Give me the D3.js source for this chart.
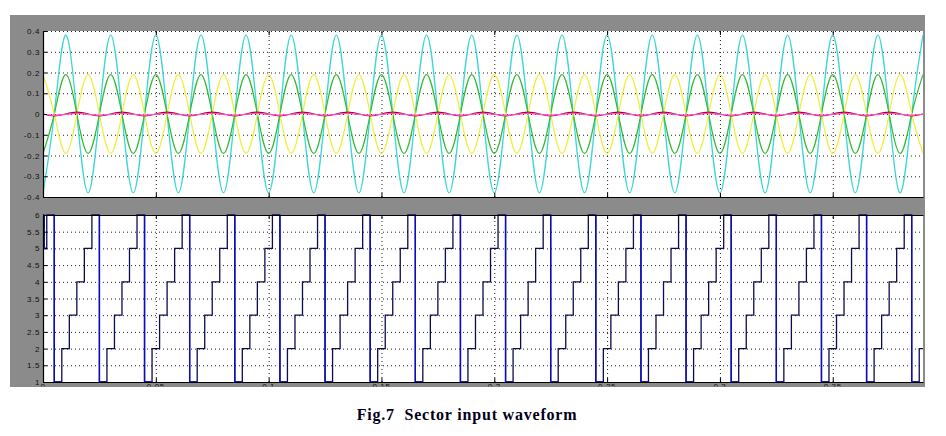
<!DOCTYPE html>
<html>
<head>
<meta charset="utf-8">
<script src="https://cdn.jsdelivr.net/npm/d3@7"></script>
<style>
  html, body { margin: 0; padding: 0; background: #ffffff; }
  svg { display: block; }
</style>
</head>
<body>
<svg id="chart" width="946" height="436"></svg>
<script>
// ---------------- DATA ----------------
// time base of the upper waveforms (s), quarter-period samples (79 points)
const waveTimes = [
 0,0.005,0.01,0.015,0.02,0.025,0.03,0.035,0.04,0.045,0.05,0.055,0.06,0.065,0.07,0.075,0.08,0.085,0.09,0.095,
 0.1,0.105,0.11,0.115,0.12,0.125,0.13,0.135,0.14,0.145,0.15,0.155,0.16,0.165,0.17,0.175,0.18,0.185,0.19,0.195,
 0.2,0.205,0.21,0.215,0.22,0.225,0.23,0.235,0.24,0.245,0.25,0.255,0.26,0.265,0.27,0.275,0.28,0.285,0.29,0.295,
 0.3,0.305,0.31,0.315,0.32,0.325,0.33,0.335,0.34,0.345,0.35,0.355,0.36,0.365,0.37,0.375,
 0.38,0.385,0.39];
const cyanValues = [
 -0.38,0,0.38,0, -0.38,0,0.38,0, -0.38,0,0.38,0, -0.38,0,0.38,0, -0.38,0,0.38,0,
 -0.38,0,0.38,0, -0.38,0,0.38,0, -0.38,0,0.38,0, -0.38,0,0.38,0, -0.38,0,0.38,0,
 -0.38,0,0.38,0, -0.38,0,0.38,0, -0.38,0,0.38,0, -0.38,0,0.38,0, -0.38,0,0.38,0,
 -0.38,0,0.38,0, -0.38,0,0.38,0, -0.38,0,0.38,0, -0.38,0,0.38,0,
 -0.38,0,0.38];
const greenValues = [
 -0.19,0,0.19,0, -0.19,0,0.19,0, -0.19,0,0.19,0, -0.19,0,0.19,0, -0.19,0,0.19,0,
 -0.19,0,0.19,0, -0.19,0,0.19,0, -0.19,0,0.19,0, -0.19,0,0.19,0, -0.19,0,0.19,0,
 -0.19,0,0.19,0, -0.19,0,0.19,0, -0.19,0,0.19,0, -0.19,0,0.19,0, -0.19,0,0.19,0,
 -0.19,0,0.19,0, -0.19,0,0.19,0, -0.19,0,0.19,0, -0.19,0,0.19,0,
 -0.19,0,0.19];
const yellowValues = [
 0.19,0,-0.19,0, 0.19,0,-0.19,0, 0.19,0,-0.19,0, 0.19,0,-0.19,0, 0.19,0,-0.19,0,
 0.19,0,-0.19,0, 0.19,0,-0.19,0, 0.19,0,-0.19,0, 0.19,0,-0.19,0, 0.19,0,-0.19,0,
 0.19,0,-0.19,0, 0.19,0,-0.19,0, 0.19,0,-0.19,0, 0.19,0,-0.19,0, 0.19,0,-0.19,0,
 0.19,0,-0.19,0, 0.19,0,-0.19,0, 0.19,0,-0.19,0, 0.19,0,-0.19,0,
 0.19,0,-0.19];
const redValues = [
 0,-0.009,0,0.009, 0,-0.009,0,0.009, 0,-0.009,0,0.009, 0,-0.009,0,0.009, 0,-0.009,0,0.009,
 0,-0.009,0,0.009, 0,-0.009,0,0.009, 0,-0.009,0,0.009, 0,-0.009,0,0.009, 0,-0.009,0,0.009,
 0,-0.009,0,0.009, 0,-0.009,0,0.009, 0,-0.009,0,0.009, 0,-0.009,0,0.009, 0,-0.009,0,0.009,
 0,-0.009,0,0.009, 0,-0.009,0,0.009, 0,-0.009,0,0.009, 0,-0.009,0,0.009,
 0,-0.009,0];
const magentaValues = [
 -0.002,-0.006,-0.002,0.003, -0.002,-0.006,-0.002,0.003, -0.002,-0.006,-0.002,0.003, -0.002,-0.006,-0.002,0.003, -0.002,-0.006,-0.002,0.003,
 -0.002,-0.006,-0.002,0.003, -0.002,-0.006,-0.002,0.003, -0.002,-0.006,-0.002,0.003, -0.002,-0.006,-0.002,0.003, -0.002,-0.006,-0.002,0.003,
 -0.002,-0.006,-0.002,0.003, -0.002,-0.006,-0.002,0.003, -0.002,-0.006,-0.002,0.003, -0.002,-0.006,-0.002,0.003, -0.002,-0.006,-0.002,0.003,
 -0.002,-0.006,-0.002,0.003, -0.002,-0.006,-0.002,0.003, -0.002,-0.006,-0.002,0.003, -0.002,-0.006,-0.002,0.003,
 -0.002,-0.006,-0.002];

// sector staircase (step-after): change times (s) and sector numbers
const sectorTimes = [0,0.0005,0.00167,
 0.005,0.00833,0.01167,0.015,0.01833,0.02167,
 0.025,0.02833,0.03167,0.035,0.03833,0.04167,
 0.045,0.04833,0.05167,0.055,0.05833,0.06167,
 0.065,0.06833,0.07167,0.075,0.07833,0.08167,
 0.085,0.08833,0.09167,0.095,0.09833,0.10167,
 0.105,0.10833,0.11167,0.115,0.11833,0.12167,
 0.125,0.12833,0.13167,0.135,0.13833,0.14167,
 0.145,0.14833,0.15167,0.155,0.15833,0.16167,
 0.165,0.16833,0.17167,0.175,0.17833,0.18167,
 0.185,0.18833,0.19167,0.195,0.19833,0.20167,
 0.205,0.20833,0.21167,0.215,0.21833,0.22167,
 0.225,0.22833,0.23167,0.235,0.23833,0.24167,
 0.245,0.24833,0.25167,0.255,0.25833,0.26167,
 0.265,0.26833,0.27167,0.275,0.27833,0.28167,
 0.285,0.28833,0.29167,0.295,0.29833,0.30167,
 0.305,0.30833,0.31167,0.315,0.31833,0.32167,
 0.325,0.32833,0.33167,0.335,0.33833,0.34167,
 0.345,0.34833,0.35167,0.355,0.35833,0.36167,
 0.365,0.36833,0.37167,0.375,0.37833,0.38167,
 0.385,0.38833,0.39];
const sectorValues = [6,5,6,
 1,2,3,4,5,6, 1,2,3,4,5,6, 1,2,3,4,5,6, 1,2,3,4,5,6,
 1,2,3,4,5,6, 1,2,3,4,5,6, 1,2,3,4,5,6, 1,2,3,4,5,6,
 1,2,3,4,5,6, 1,2,3,4,5,6, 1,2,3,4,5,6, 1,2,3,4,5,6,
 1,2,3,4,5,6, 1,2,3,4,5,6, 1,2,3,4,5,6, 1,2,3,4,5,6,
 1,2,3,4,5,6, 1,2,3,4,5,6, 1,2,3,4,5,6,
 1,2,2];

// ticks
const xTicks = [0,0.05,0.1,0.15,0.2,0.25,0.3,0.35];
const xTickLabels = ["0","0.05","0.1","0.15","0.2","0.25","0.3","0.35"];
const topYTicks = [0.4,0.3,0.2,0.1,0,-0.1,-0.2,-0.3,-0.4];
const topYTickLabels = ["0.4","0.3","0.2","0.1","0","-0.1","-0.2","-0.3","-0.4"];
const botYTicks = [6,5.5,5,4.5,4,3.5,3,2.5,2,1.5,1];
const botYTickLabels = ["6","5.5","5","4.5","4","3.5","3","2.5","2","1.5","1"];
const caption = "Fig.7\u00a0\u00a0Sector input waveform";

// ---------------- LAYOUT ----------------
const svg = d3.select("#chart");
const L = 43, R = 923;
const TOP = {y0: 31, y1: 197};
const BOT = {y0: 215, y1: 382};
const GRAY = "#8b8b8b";
const FONT = "Liberation Sans, Arial, sans-serif";

const x = d3.scaleLinear().domain([0, 0.39]).range([L, R]);
const yTop = d3.scaleLinear().domain([-0.4, 0.4]).range([TOP.y1, TOP.y0]);
const yBot = d3.scaleLinear().domain([1, 6]).range([BOT.y1, BOT.y0]);

// gray scope background
svg.append("rect").attr("x", 10).attr("y", 15).attr("width", 915).attr("height", 372).attr("fill", GRAY);

const defs = svg.append("defs");
defs.append("clipPath").attr("id", "clipTop").append("rect")
  .attr("x", L).attr("y", TOP.y0).attr("width", R - L).attr("height", TOP.y1 - TOP.y0);
defs.append("clipPath").attr("id", "clipBot").append("rect")
  .attr("x", L).attr("y", BOT.y0 - 1).attr("width", R - L).attr("height", BOT.y1 - BOT.y0 + 2);
defs.append("clipPath").attr("id", "clipXLab").append("rect")
  .attr("x", 0).attr("y", 0).attr("width", 946).attr("height", 386.5);

function panel(p, yScale, yTicks, clipId) {
  svg.append("rect").attr("x", L).attr("y", p.y0).attr("width", R - L).attr("height", p.y1 - p.y0).attr("fill", "#ffffff");

  const gy = svg.append("g").attr("transform", `translate(${L},0)`)
    .call(d3.axisLeft(yScale).tickValues(yTicks).tickSize(-(R - L)).tickFormat(""));
  gy.select(".domain").remove();
  gy.selectAll("line").attr("stroke", "#222").attr("stroke-dasharray", "1,3").attr("stroke-width", 1);

  const gx = svg.append("g").attr("transform", `translate(0,${p.y1})`)
    .call(d3.axisBottom(x).tickValues(xTicks).tickSize(-(p.y1 - p.y0)).tickFormat(""));
  gx.select(".domain").remove();
  gx.selectAll("line").attr("stroke", "#222").attr("stroke-dasharray", "1,3").attr("stroke-width", 1);

  return svg.append("g").attr("clip-path", `url(#${clipId})`);
}

function frame(p, yScale, yTicks, yLabels, topBorder) {
  const ay = svg.append("g").attr("transform", `translate(${L},0)`)
    .call(d3.axisLeft(yScale).tickValues(yTicks).tickSizeInner(-4).tickSizeOuter(0).tickPadding(3)
      .tickFormat((d, i) => yLabels[i]));
  ay.select(".domain").attr("stroke", "#000").attr("stroke-width", 1.2);
  ay.selectAll(".tick line").attr("stroke", "#000");
  ay.selectAll("text").attr("font-family", FONT)
    .attr("font-size", 8).attr("letter-spacing", "0.6px").attr("fill", "#111");

  const ax = svg.append("g").attr("transform", `translate(0,${p.y1})`)
    .call(d3.axisBottom(x).tickValues(xTicks).tickSizeInner(-4).tickSizeOuter(0).tickFormat(""));
  ax.select(".domain").attr("stroke", "#000").attr("stroke-width", 1.2);
  ax.selectAll(".tick line").attr("stroke", "#000");

  const at = svg.append("g").attr("transform", `translate(0,${p.y0})`)
    .call(d3.axisTop(x).tickValues(xTicks).tickSizeInner(-4).tickSizeOuter(0).tickFormat(""));
  if (topBorder) at.select(".domain").attr("stroke", "#000").attr("stroke-width", 1.2);
  else at.select(".domain").remove();
  at.selectAll(".tick line").attr("stroke", "#000");
}

// ---------------- TOP PANEL ----------------
const gTop = panel(TOP, yTop, topYTicks, "clipTop");
const waveLine = vals => d3.line()
  .defined((d, i) => waveTimes[i] !== undefined)
  .x((d, i) => x(waveTimes[i]))
  .y(d => yTop(d))
  .curve(d3.curveNatural)(vals);

const waves = [
  {v: cyanValues, c: "#3fd6d6", w: 1.3},
  {v: greenValues, c: "#33bb33", w: 1.2},
  {v: yellowValues, c: "#f2ee3c", w: 1.2},
  {v: redValues, c: "#a0002a", w: 1.2},
  {v: magentaValues, c: "#ff4ec8", w: 1.4}
];
waves.forEach(s => {
  gTop.append("path").attr("d", waveLine(s.v)).attr("fill", "none")
    .attr("stroke", s.c).attr("stroke-width", s.w);
});
frame(TOP, yTop, topYTicks, topYTickLabels, false);

// ---------------- BOTTOM PANEL ----------------
const gBot = panel(BOT, yBot, botYTicks, "clipBot");
const sectorData = sectorTimes.map((t, i) => ({t, v: sectorValues[i]}));
gBot.append("path")
  .attr("d", d3.line().x(d => x(d.t)).y(d => yBot(d.v)).curve(d3.curveStepAfter)(sectorData))
  .attr("fill", "none").attr("stroke", "#0c0c50").attr("stroke-width", 1.3);

// falling transitions and lowest-sector segments drawn in blue
const drops = [];
for (let i = 1; i < sectorData.length; i++) {
  if (sectorData[i].v < sectorData[i - 1].v) {
    drops.push({t: sectorData[i].t, from: sectorData[i - 1].v, to: sectorData[i].v,
                tEnd: i + 1 < sectorData.length ? sectorData[i + 1].t : sectorData[i].t});
  }
}
gBot.selectAll("path.drop").data(drops).join("path").attr("class", "drop")
  .attr("d", d => d3.line().x(p => x(p[0])).y(p => yBot(p[1]))([[d.t, d.from], [d.t, d.to], [d.tEnd, d.to]]))
  .attr("fill", "none").attr("stroke", "#0a0ac8").attr("stroke-width", 1.4);

frame(BOT, yBot, botYTicks, botYTickLabels, true);

// x tick labels, cut off by the bottom of the scope picture
const labG = svg.append("g").attr("clip-path", "url(#clipXLab)");
labG.selectAll("text").data(xTicks).join("text")
  .attr("x", d => x(d)).attr("y", 383).attr("dy", "0.71em")
  .attr("text-anchor", "middle")
  .attr("font-family", FONT)
  .attr("font-size", 8).attr("letter-spacing", "0.6px").attr("fill", "#111")
  .text((d, i) => xTickLabels[i]);

// ---------------- CAPTION ----------------
svg.append("text").attr("x", 467).attr("y", 420).attr("text-anchor", "middle")
  .attr("font-family", "Liberation Serif, Times New Roman, serif")
  .attr("font-weight", "bold").attr("font-size", 16).attr("letter-spacing", "0.8px")
  .attr("fill", "#000018")
  .text(caption);
</script>
</body>
</html>
